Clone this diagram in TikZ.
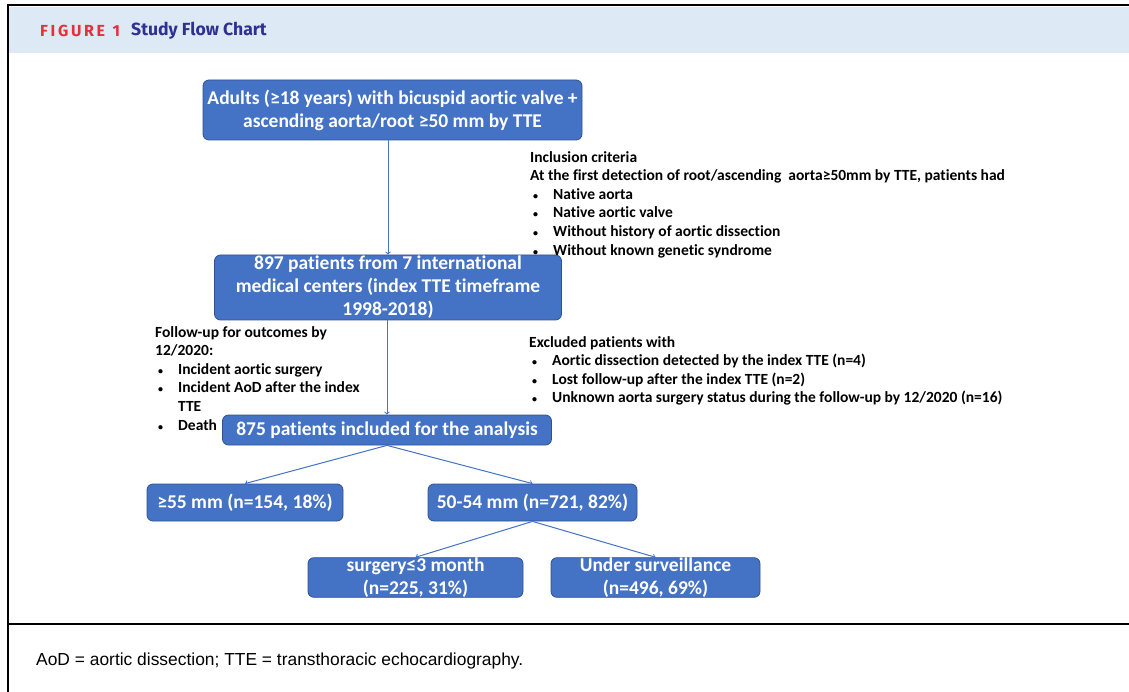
\documentclass[tikz,border=0pt]{standalone}
\usepackage{fontspec}
\setmainfont{Carlito}[Ligatures=NoCommon]
\newfontfamily\headfont{Fira Sans}
\newfontfamily\notefont{Liberation Sans}
\usetikzlibrary{positioning}
\definecolor{boxblue}{HTML}{4472C4}
\definecolor{edgeblue}{HTML}{2F528F}
\definecolor{bandblue}{HTML}{DDE9F5}
\definecolor{figred}{HTML}{E2313A}
\definecolor{titleblue}{HTML}{2E3192}
\newcommand{\bul}{\hspace*{3pt}\makebox[20pt][l]{\fontsize{10}{10}\selectfont\textbullet}}
\begin{document}
\begin{tikzpicture}[x=1pt, y=-1pt,
    box/.style = {rounded corners=6pt, fill=boxblue, draw=edgeblue, line width=0.8pt,
                  text=white, align=center, inner sep=0pt,
                  font=\bfseries\fontsize{19.5}{23}\selectfont},
    link/.style = {->, boxblue, line width=1pt},
    note/.style = {anchor=north west, align=left, inner sep=0pt,
                   font=\bfseries\fontsize{15.5}{18.6}\selectfont}]
    \useasboundingbox (0,0) rectangle (1129,692);
    % frame and header band
    \fill[bandblue] (9,7) rectangle (1129,53);
    \draw[line width=1.5pt] (1129,5) -- (8,5) -- (8,692);
    \draw[line width=1.3pt] (8,624) -- (1129,624);
    \node[anchor=west, inner sep=0pt, text=figred, font=\headfont\bfseries\fontsize{16}{18}\selectfont]
        (fig) at (40,31) {F\,I\,G\,U\,R\,E\ \ 1};
    \node[anchor=west, inner sep=0pt, text=titleblue, font=\headfont\bfseries\fontsize{17.6}{20}\selectfont]
        (title) at (131,31) {Study Flow Chart};
    % boxes
    \node[box, minimum width=379, minimum height=60] (adults) at (392.5,110)
        {Adults (≥18 years) with bicuspid aortic valve +\\ascending aorta/root ≥50 mm by TTE};
    \node[box, minimum width=347, minimum height=65] (centers) at (388,287.5)
        {897 patients from 7 international\\medical centers (index TTE timeframe\\1998-2018)};
    \node[box, minimum width=329, minimum height=30] (included) at (387,430)
        {875 patients included for the analysis};
    \node[box, minimum width=196, minimum height=37] (large) at (245,502.5)
        {≥55 mm (n=154, 18\%)};
    \node[box, minimum width=209, minimum height=37] (mid) at (532.5,502.5)
        {50-54 mm (n=721, 82\%)};
    \node[box, minimum width=215, minimum height=39] (surgery) at (415.5,577.5)
        {surgery≤3 month\\(n=225, 31\%)};
    \node[box, minimum width=209, minimum height=39] (watch) at (655.5,577.5)
        {Under surveillance\\(n=496, 69\%)};
    % side notes
    \node[note] (incl) at (530,151)
        {Inclusion criteria\\
         At the first detection of root/ascending \ aorta≥50mm by TTE, patients had\\
         \bul Native aorta\\
         \bul Native aortic valve\\
         \bul Without history of aortic dissection\\
         \bul Without known genetic syndrome};
    \node[note] (follow) at (155,326)
        {Follow-up for outcomes by\\
         12/2020:\\
         \bul Incident aortic surgery\\
         \bul Incident AoD after the index\\
         \hspace*{23pt}TTE\\
         \bul Death};
    \node[note] (excl) at (529,336)
        {Excluded patients with\\
         \bul Aortic dissection detected by the index TTE (n=4)\\
         \bul Lost follow-up after the index TTE (n=2)\\
         \bul Unknown aorta surgery status during the follow-up by 12/2020 (n=16)};
    % connectors
    \draw[link] (centers.north |- adults.south) -- (centers.north);
    \draw[link] (included.north |- centers.south) -- (included.north);
    \draw[link] (included.south) -- (large.north);
    \draw[link] (included.south) -- (mid.north);
    \draw[link] (mid.south) -- (surgery.north);
    \draw[link] (mid.south) -- (watch.north);
    % footnote
    \node[anchor=west, inner sep=0pt, font=\notefont\fontsize{17.4}{20}\selectfont]
        (abbr) at (36,661) {AoD = aortic dissection; TTE = transthoracic echocardiography.};
\end{tikzpicture}
\end{document}
